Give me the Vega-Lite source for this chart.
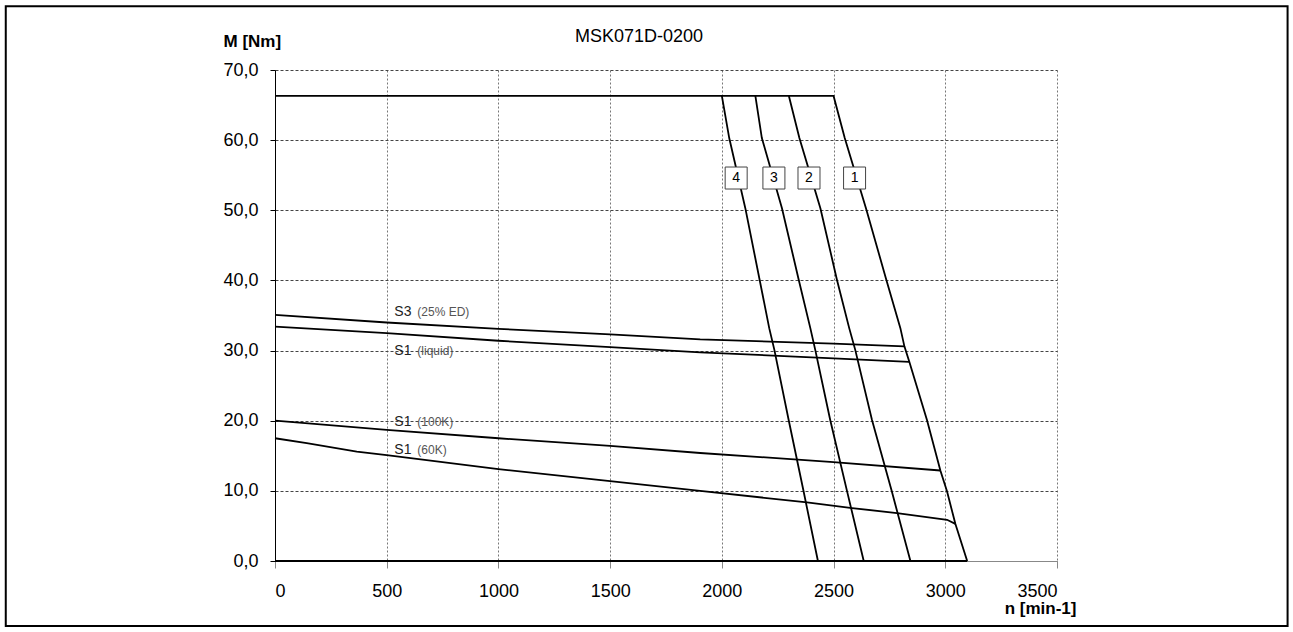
{
  "$schema": "https://vega.github.io/schema/vega-lite/v6.json",
  "width": 782,
  "height": 491,
  "autosize": "none",
  "padding": {"left": 275, "top": 70, "right": 236, "bottom": 71},
  "background": "white",
  "config": {"view": {"stroke": null}, "font": "Liberation Sans"},
  "title": {"text": "MSK071D-0200", "fontSize": 18, "fontWeight": "normal", "font": "Liberation Sans", "color": "#000", "dx": -27, "baseline": "alphabetic", "offset": -54.5},
  "datasets": {
    "curves": [
      {"c": "base", "n": 0, "M": 0}, {"c": "base", "n": 3098, "M": 0},
      {"c": "1", "n": 0, "M": 66.3}, {"c": "1", "n": 2500, "M": 66.3}, {"c": "1", "n": 2550, "M": 60.3}, {"c": "1", "n": 2645, "M": 50.3}, {"c": "1", "n": 2736, "M": 40.1}, {"c": "1", "n": 2799, "M": 33.2}, {"c": "1", "n": 2817, "M": 30.6}, {"c": "1", "n": 2839, "M": 28.4}, {"c": "1", "n": 2918, "M": 20.1}, {"c": "1", "n": 2978, "M": 12.9}, {"c": "1", "n": 3008, "M": 9.9}, {"c": "1", "n": 3045, "M": 5.3}, {"c": "1", "n": 3098, "M": 0},
      {"c": "2", "n": 2300, "M": 66.3}, {"c": "2", "n": 2347, "M": 60.3}, {"c": "2", "n": 2441, "M": 50.3}, {"c": "2", "n": 2515, "M": 40.1}, {"c": "2", "n": 2570, "M": 33.2}, {"c": "2", "n": 2597, "M": 30.1}, {"c": "2", "n": 2672, "M": 20.1}, {"c": "2", "n": 2760, "M": 10.0}, {"c": "2", "n": 2844, "M": 0},
      {"c": "3", "n": 2150, "M": 66.3}, {"c": "3", "n": 2179, "M": 60.3}, {"c": "3", "n": 2269, "M": 50.3}, {"c": "3", "n": 2344, "M": 40.1}, {"c": "3", "n": 2396, "M": 33.2}, {"c": "3", "n": 2418, "M": 30.1}, {"c": "3", "n": 2485, "M": 20.1}, {"c": "3", "n": 2560, "M": 10.0}, {"c": "3", "n": 2635, "M": 0},
      {"c": "4", "n": 2000, "M": 66.3}, {"c": "4", "n": 2033, "M": 60.3}, {"c": "4", "n": 2105, "M": 50.3}, {"c": "4", "n": 2169, "M": 40.1}, {"c": "4", "n": 2212, "M": 33.2}, {"c": "4", "n": 2235, "M": 30.1}, {"c": "4", "n": 2299, "M": 20.1}, {"c": "4", "n": 2366, "M": 9.9}, {"c": "4", "n": 2430, "M": 0},
      {"c": "S3", "n": 0, "M": 35.1}, {"c": "S3", "n": 500, "M": 34.0}, {"c": "S3", "n": 1000, "M": 33.1}, {"c": "S3", "n": 1500, "M": 32.3}, {"c": "S3", "n": 1903, "M": 31.6}, {"c": "S3", "n": 2500, "M": 31.0}, {"c": "S3", "n": 2817, "M": 30.6},
      {"c": "S1liq", "n": 0, "M": 33.4}, {"c": "S1liq", "n": 500, "M": 32.5}, {"c": "S1liq", "n": 1000, "M": 31.4}, {"c": "S1liq", "n": 1500, "M": 30.5}, {"c": "S1liq", "n": 1903, "M": 29.75}, {"c": "S1liq", "n": 2500, "M": 28.9}, {"c": "S1liq", "n": 2839, "M": 28.4},
      {"c": "S1100", "n": 0, "M": 20.0}, {"c": "S1100", "n": 500, "M": 18.7}, {"c": "S1100", "n": 1000, "M": 17.5}, {"c": "S1100", "n": 1500, "M": 16.4}, {"c": "S1100", "n": 1903, "M": 15.4}, {"c": "S1100", "n": 2500, "M": 14.1}, {"c": "S1100", "n": 2978, "M": 12.9},
      {"c": "S160", "n": 0, "M": 17.5}, {"c": "S160", "n": 142, "M": 16.8}, {"c": "S160", "n": 366, "M": 15.6}, {"c": "S160", "n": 500, "M": 15.1}, {"c": "S160", "n": 1000, "M": 13.1}, {"c": "S160", "n": 1500, "M": 11.4}, {"c": "S160", "n": 1903, "M": 10.0}, {"c": "S160", "n": 2381, "M": 8.35}, {"c": "S160", "n": 2583, "M": 7.55}, {"c": "S160", "n": 2784, "M": 6.84}, {"c": "S160", "n": 3008, "M": 5.88}, {"c": "S160", "n": 3045, "M": 5.3}
    ],
    "boxes": [
      {"label": "1", "n": 2594, "M": 54.6},
      {"label": "2", "n": 2390, "M": 54.6},
      {"label": "3", "n": 2233, "M": 54.6},
      {"label": "4", "n": 2064, "M": 54.6}
    ],
    "slabels": [
      {"main": "S3", "sub": "(25% ED)", "n": 534, "M": 35.5},
      {"main": "S1", "sub": "(liquid)", "n": 534, "M": 29.96},
      {"main": "S1", "sub": "(100K)", "n": 534, "M": 19.77},
      {"main": "S1", "sub": "(60K)", "n": 534, "M": 15.86}
    ]
  },
  "layer": [
    {
      "data": {"values": [{}]},
      "mark": {"type": "rect", "fill": null, "stroke": "black", "strokeWidth": 2, "filled": false},
      "encoding": {
        "x": {"datum": -1205, "type": "quantitative", "scale": {"domain": [0, 3500], "nice": false, "zero": false}},
        "x2": {"datum": 4532},
        "y": {"datum": 79.1, "type": "quantitative", "scale": {"domain": [0, 70], "nice": false, "zero": false}},
        "y2": {"datum": -9.25}
      }
    },
    {
      "data": {"name": "curves"},
      "mark": {"type": "line", "color": "black", "strokeWidth": 1.8},
      "encoding": {
        "x": {
          "field": "n", "type": "quantitative",
          "scale": {"domain": [0, 3500], "nice": false, "zero": false},
          "axis": {
            "values": [0, 500, 1000, 1500, 2000, 2500, 3000, 3500],
            "format": "d",
            "grid": true, "gridDash": [2, 2], "gridColor": "#777", "gridWidth": 1,
            "domainColor": "#888", "tickColor": "#888", "tickSize": 7,
            "labelFontSize": 18, "labelColor": "#000", "labelPadding": 14, "labelFont": "Liberation Sans",
            "title": "n [min-1]", "titleFontSize": 17, "titleFontWeight": "bold", "titleColor": "#000", "titleFont": "Liberation Sans",
            "titleAlign": "right", "titleAnchor": "start", "titleX": 801, "titleY": 52, "titleBaseline": "alphabetic"
          }
        },
        "y": {
          "field": "M", "type": "quantitative",
          "scale": {"domain": [0, 70], "nice": false, "zero": false},
          "axis": {
            "values": [0, 10, 20, 30, 40, 50, 60, 70],
            "labelExpr": "replace(format(datum.value, '.1f'), '.', ',')",
            "grid": true, "gridDash": [3, 2], "gridColor": "#444", "gridWidth": 1,
            "domainColor": "#000", "tickColor": "#000", "tickSize": 5,
            "labelFontSize": 18, "labelColor": "#000", "labelPadding": 12, "labelFont": "Liberation Sans",
            "title": "M [Nm]", "titleFontSize": 17, "titleFontWeight": "bold", "titleColor": "#000", "titleFont": "Liberation Sans",
            "titleAngle": 0, "titleAlign": "left", "titleAnchor": "start", "titleX": -52, "titleY": -24, "titleBaseline": "alphabetic"
          }
        },
        "detail": {"field": "c", "type": "nominal"}
      }
    },
    {
      "data": {"name": "boxes"},
      "mark": {"type": "point", "shape": "square", "filled": true, "fill": "white", "stroke": "#444", "strokeWidth": 1, "size": 484, "opacity": 1},
      "encoding": {
        "x": {"field": "n", "type": "quantitative"},
        "y": {"field": "M", "type": "quantitative"}
      }
    },
    {
      "data": {"name": "boxes"},
      "mark": {"type": "text", "fontSize": 14, "color": "#000", "align": "center", "baseline": "middle"},
      "encoding": {
        "x": {"field": "n", "type": "quantitative"},
        "y": {"field": "M", "type": "quantitative"},
        "text": {"field": "label"}
      }
    },
    {
      "data": {"name": "slabels"},
      "mark": {"type": "text", "fontSize": 14, "color": "#222", "align": "left", "baseline": "middle"},
      "encoding": {
        "x": {"field": "n", "type": "quantitative"},
        "y": {"field": "M", "type": "quantitative"},
        "text": {"field": "main"}
      }
    },
    {
      "data": {"name": "slabels"},
      "mark": {"type": "text", "fontSize": 12, "color": "#555", "align": "left", "baseline": "middle", "dx": 23},
      "encoding": {
        "x": {"field": "n", "type": "quantitative"},
        "y": {"field": "M", "type": "quantitative"},
        "text": {"field": "sub"}
      }
    }
  ]
}
